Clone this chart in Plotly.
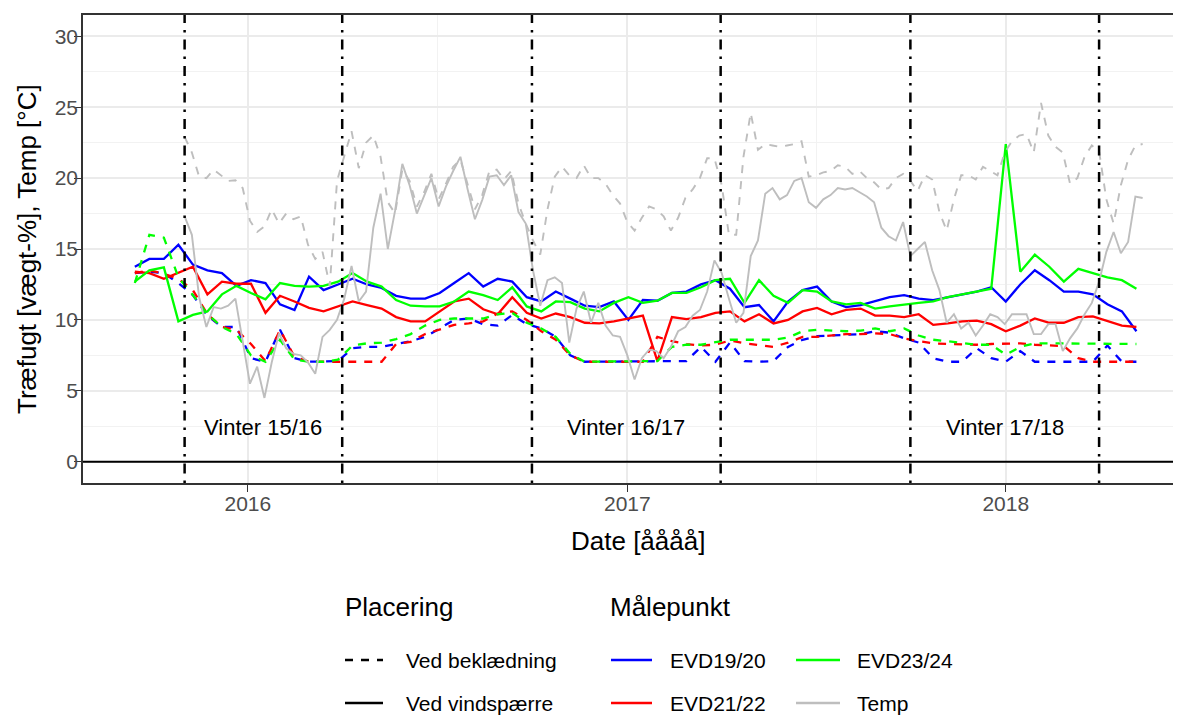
import plotly.graph_objects as go
import pandas as pd

# ---------------- data ----------------
evd_start = "2015-09-14"      # biweekly moisture readings
temp_start = "2015-11-01"     # weekly temperature readings

evd19_vindspaerre = [13.75, 14.3, 14.3, 15.3, 13.9, 13.5, 13.3, 12.4, 12.8, 12.6,
                     11.1, 10.7, 13.05, 12.1, 12.5, 12.9, 12.5, 12.25, 11.7, 11.5,
                     11.5, 11.9, 12.6, 13.3, 12.35, 12.9, 12.7, 11.6, 11.3, 12.0,
                     11.5, 11.0, 10.9, 11.3, 10.0, 11.4, 11.35, 11.9, 12.0, 12.5,
                     12.8, 12.2, 10.9, 11.05, 9.9, 11.3, 12.1, 12.35, 11.3, 10.9,
                     11.05, 11.3, 11.6, 11.75, 11.5, 11.4, 11.6, 11.8, 12.0, 12.3,
                     11.3, 12.5, 13.5, 12.8, 12.0, 12.0, 11.8, 11.1, 10.6, 9.2]
evd21_vindspaerre = [13.4, 13.3, 12.9, 13.3, 13.75, 11.8, 12.7, 12.55, 12.55, 10.5,
                     11.7, 11.3, 10.85, 10.6, 10.95, 11.3, 11.05, 10.8, 10.2, 9.9,
                     9.9, 10.6, 11.3, 11.5, 10.75, 10.4, 11.6, 10.5, 10.1, 10.45,
                     10.2, 9.8, 9.75, 9.9, 10.1, 10.3, 7.1, 10.2, 10.05, 10.2,
                     10.5, 10.6, 9.9, 10.4, 9.75, 10.0, 10.6, 10.85, 10.4, 10.7,
                     10.8, 10.3, 10.3, 10.2, 10.4, 9.65, 9.75, 9.9, 9.95, 9.7,
                     9.2, 9.6, 10.1, 9.8, 9.8, 10.2, 10.25, 9.95, 9.6, 9.5]
evd23_vindspaerre = [12.7, 13.5, 13.7, 9.9, 10.35, 10.6, 11.8, 12.4, 11.9, 11.45,
                     12.6, 12.4, 12.35, 12.4, 12.7, 13.3, 12.7, 12.35, 11.4, 11.0,
                     10.95, 10.95, 11.3, 12.0, 11.75, 11.4, 12.3, 10.95, 10.6, 11.3,
                     11.25, 10.8, 10.6, 11.2, 11.6, 11.2, 11.35, 11.9, 11.9, 12.3,
                     12.8, 12.9, 11.2, 12.8, 11.7, 11.2, 12.1, 12.0, 11.3, 11.1,
                     11.2, 10.8, 10.95, 11.1, 11.2, 11.3, 11.6, 11.8, 12.0, 12.2,
                     22.4, 13.4, 14.6, 13.75, 12.7, 13.6, 13.3, 13.0, 12.8, 12.2]
evd19_beklaedning = [13.3, 13.4, 13.3, 12.6, 11.75, 10.3, 9.5, 9.5, 7.3, 7.05,
                     9.3, 7.3, 7.05, 7.05, 7.1, 8.0, 8.1, 8.1, 8.3, 8.5,
                     8.8, 9.4, 10.0, 10.1, 9.7, 9.6, 10.35, 9.7, 9.4, 8.8,
                     7.5, 7.05, 7.05, 7.05, 7.05, 7.05, 7.1, 7.1, 7.1, 8.1,
                     7.05, 8.4, 7.1, 7.05, 7.1, 8.1, 8.6, 8.85, 8.9, 8.95,
                     9.0, 9.2, 9.1, 8.7, 8.4, 7.3, 7.05, 7.05, 8.0, 7.3,
                     7.05, 7.8, 7.05, 7.05, 7.05, 7.05, 7.05, 8.2, 7.05, 7.05]
evd21_beklaedning = [13.3, 13.5, 13.25, 12.9, 12.1, 10.4, 9.5, 9.3, 8.3, 7.1,
                     9.3, 7.4, 7.05, 7.05, 7.05, 7.05, 7.05, 7.05, 8.3, 8.45,
                     9.0, 9.3, 9.65, 9.75, 9.9, 10.45, 10.6, 10.0, 9.2, 8.6,
                     7.5, 7.05, 7.05, 7.05, 7.05, 7.05, 8.8, 8.5, 8.3, 8.2,
                     8.25, 8.55, 8.35, 8.25, 8.1, 8.4, 8.8, 8.8, 8.9, 9.0,
                     9.0, 9.05, 9.0, 8.7, 8.5, 8.35, 8.3, 8.25, 8.25, 8.3,
                     8.35, 8.35, 8.25, 8.2, 8.15, 7.3, 7.05, 7.05, 7.05, 7.05]
evd23_beklaedning = [12.6, 16.0, 15.8, 13.0, 11.75, 10.4, 9.5, 9.0, 7.5, 7.05,
                     8.6, 7.2, 7.05, 7.05, 7.2, 8.2, 8.35, 8.4, 8.65, 9.0,
                     9.6, 10.0, 10.1, 10.1, 10.1, 10.4, 10.5, 9.8, 9.4, 8.8,
                     7.6, 7.05, 7.05, 7.05, 7.05, 7.05, 7.1, 8.1, 8.25, 8.25,
                     8.4, 8.6, 8.6, 8.6, 8.6, 8.75, 9.2, 9.3, 9.25, 9.2,
                     9.25, 9.4, 9.2, 9.4, 8.9, 8.6, 8.5, 8.4, 8.25, 8.25,
                     7.55, 8.1, 8.35, 8.35, 8.35, 8.35, 8.3, 8.3, 8.3, 8.3]

temp_vindspaerre = [17.3, 16.0, 11.6, 9.5, 10.9, 10.8, 11.0, 11.5, 8.5, 5.5,
                    6.7, 4.5, 7.0, 9.05, 8.0, 7.6, 7.5, 7.0, 6.2, 8.8,
                    9.3, 10.0, 11.5, 13.8, 11.3, 12.0, 16.5, 18.9, 15.0, 17.7,
                    21.0, 19.5, 17.5, 18.8, 20.0, 18.0, 19.4, 20.5, 21.5, 19.2,
                    17.1, 18.45, 20.1, 20.2, 19.5, 20.2, 17.6, 16.8, 13.5, 11.0,
                    12.8, 13.0, 12.6, 8.4, 10.8, 12.0, 9.8, 11.2, 9.6, 8.9,
                    8.8, 7.5, 5.8, 7.3, 7.9, 7.8, 7.3, 8.1, 9.2, 9.5,
                    10.3, 10.7, 12.0, 14.2, 13.3, 11.5, 9.8, 10.5, 14.5, 15.6,
                    18.9, 19.3, 18.5, 18.8, 19.8, 20.0, 18.3, 17.9, 18.5, 18.8,
                    19.3, 19.2, 19.3, 19.0, 18.7, 18.3, 16.5, 15.9, 15.6, 16.9,
                    14.5, 15.0, 15.5, 13.5, 12.1, 9.8, 10.4, 9.4, 9.8, 8.9,
                    9.6, 10.4, 10.2, 9.7, 10.4, 10.4, 10.4, 9.0, 9.0, 9.7,
                    9.7, 7.8, 8.7, 9.4, 10.4, 11.2, 12.7, 14.8, 16.2, 14.7,
                    15.5, 18.7, 18.6]
temp_beklaedning = [22.9, 21.8, 20.1, 20.0, 20.6, 20.2, 19.8, 19.85, 19.3, 17.0,
                    16.2, 16.6, 17.8, 16.8, 17.5, 17.1, 17.3, 15.3, 14.3, 14.8,
                    12.4, 19.8, 21.5, 23.3, 20.7, 22.5, 23.0, 21.5, 18.3, 17.5,
                    20.6, 19.8, 18.0, 19.0, 20.3, 18.5, 19.6, 20.8, 21.3, 19.6,
                    17.8, 18.8, 20.5, 20.6, 19.9, 20.5, 18.2, 16.8, 15.6, 14.6,
                    17.8, 20.1, 20.8, 20.2, 20.0, 20.9, 20.0, 20.0, 19.6, 18.8,
                    18.2, 16.9, 16.3, 17.2, 18.0, 17.8, 17.3, 16.3, 17.2, 18.6,
                    19.2, 20.0, 21.4, 21.4, 19.5, 16.0, 16.0, 21.5, 24.6, 22.0,
                    22.4, 22.3, 22.2, 22.3, 22.4, 22.6, 20.1, 20.2, 20.4, 20.5,
                    20.9, 20.8, 20.3, 20.5, 20.0, 19.7, 19.2, 19.3, 20.0, 20.3,
                    19.8, 19.1, 20.2, 19.9, 17.6, 16.3, 18.5, 20.2, 20.2, 19.9,
                    20.8, 20.5, 20.2, 21.8, 22.6, 23.0, 23.1, 21.8, 25.3, 23.0,
                    22.2, 21.8, 19.6, 20.0, 21.5, 22.3, 21.9, 18.5, 16.8, 19.5,
                    21.3, 22.3, 22.4]

winter_bounds = ["2015-11-01", "2016-04-01", "2016-10-01",
                 "2017-04-01", "2017-10-01", "2018-04-01"]
winter_labels = ["Vinter 15/16", "Vinter 16/17", "Vinter 17/18"]
year_ticks = ["2016-01-01", "2017-01-01", "2018-01-01"]
year_labels = ["2016", "2017", "2018"]
y_ticks = [0, 5, 10, 15, 20, 25, 30]

# ---------------- styling ----------------
OFF = 8                       # default page margin of the html body
W, H = 1181 - OFF, 715 - OFF
ML, MR, MT, MB = 83 - OFF, 0, 15 - OFF, 232
FONT = "Liberation Sans, Arial, sans-serif"
COL = {"EVD19/20": "#0000FF", "EVD21/22": "#FF0000",
       "EVD23/24": "#00FF00", "Temp": "#BEBEBE"}
DASH = "8px,8px"

evd_dates = pd.date_range(evd_start, periods=len(evd19_vindspaerre), freq="14D")
temp_dates = pd.date_range(temp_start, periods=len(temp_vindspaerre), freq="7D")

fig = go.Figure()

series = [
    ("EVD19/20", evd19_beklaedning, evd19_vindspaerre),
    ("EVD21/22", evd21_beklaedning, evd21_vindspaerre),
    ("EVD23/24", evd23_beklaedning, evd23_vindspaerre),
]
for name, bek, vind in series:
    fig.add_trace(go.Scatter(x=evd_dates, y=bek, mode="lines",
                             line=dict(color=COL[name], width=2.3, dash=DASH),
                             showlegend=False))
    fig.add_trace(go.Scatter(x=evd_dates, y=vind, mode="lines",
                             line=dict(color=COL[name], width=2.3),
                             showlegend=False))
fig.add_trace(go.Scatter(x=temp_dates, y=temp_beklaedning, mode="lines",
                         line=dict(color=COL["Temp"], width=1.9, dash=DASH),
                         showlegend=False))
fig.add_trace(go.Scatter(x=temp_dates, y=temp_vindspaerre, mode="lines",
                         line=dict(color=COL["Temp"], width=1.9),
                         showlegend=False))

pw = W - ML - MR
ph = H - MT - MB
REF_BOTTOM = 483              # panel bottom in reference pixels


def px(xp):
    return (xp - 83) / pw


def py(yp):
    return (REF_BOTTOM - yp) / ph


shapes = []
shapes.append(dict(type="line", xref="paper", yref="y", x0=0, x1=1, y0=0, y1=0,
                   line=dict(color="black", width=2), layer="above"))
for d in winter_bounds:
    shapes.append(dict(type="line", xref="x", yref="paper", x0=d, x1=d, y0=0, y1=1,
                       line=dict(color="black", width=2.5,
                                 dash="2.5px,7px,10px,7px"),
                       layer="above"))

annotations = []
wb = pd.to_datetime(winter_bounds)
for k, lab in enumerate(winter_labels):
    mid = wb[2 * k] + (wb[2 * k + 1] - wb[2 * k]) / 2
    annotations.append(dict(x=mid, y=2.4, xref="x", yref="y", text=lab,
                            xanchor="center", yanchor="middle",
                            showarrow=False, font=dict(family=FONT, size=22, color="black")))

# axis titles
annotations.append(dict(x=px(638), y=py(541), xref="paper", yref="paper",
                        xanchor="center", yanchor="middle",
                        text="Date [åååå]", showarrow=False,
                        font=dict(family=FONT, size=26, color="black")))
annotations.append(dict(x=px(27), y=py(249), xref="paper", yref="paper",
                        xanchor="center", yanchor="middle",
                        text="Træfugt [vægt-%], Temp [°C]", showarrow=False, textangle=-90,
                        font=dict(family=FONT, size=26, color="black")))

# manual legend
annotations.append(dict(x=px(343), y=py(607), xref="paper", yref="paper",
                        xanchor="left", yanchor="middle",
                        text="Placering", showarrow=False,
                        font=dict(family=FONT, size=26, color="black")))
annotations.append(dict(x=px(608), y=py(607), xref="paper", yref="paper",
                        xanchor="left", yanchor="middle",
                        text="Målepunkt", showarrow=False,
                        font=dict(family=FONT, size=26, color="black")))
legend_items = [
    (345, 383, 660, "black", DASH, 404, "Ved beklædning"),
    (345, 383, 703, "black", "solid", 404, "Ved vindspærre"),
    (611, 652, 660, COL["EVD19/20"], "solid", 668, "EVD19/20"),
    (611, 652, 703, COL["EVD21/22"], "solid", 668, "EVD21/22"),
    (796, 840, 660, COL["EVD23/24"], "solid", 855, "EVD23/24"),
    (796, 840, 703, COL["Temp"], "solid", 855, "Temp"),
]
for x0, x1, yy, col, dsh, tx, lab in legend_items:
    shapes.append(dict(type="line", xref="paper", yref="paper", x0=px(x0), x1=px(x1),
                       y0=py(yy), y1=py(yy), line=dict(color=col, width=2.3, dash=dsh)))
    annotations.append(dict(x=px(tx), y=py(yy), xref="paper", yref="paper",
                            xanchor="left", yanchor="middle",
                            text=lab, showarrow=False,
                            font=dict(family=FONT, size=21, color="black")))

fig.update_layout(
    width=W, height=H,
    margin=dict(l=ML, r=MR, t=MT, b=MB, pad=0),
    paper_bgcolor="white", plot_bgcolor="white",
    font=dict(family=FONT),
    showlegend=False,
    shapes=shapes, annotations=annotations,
    xaxis=dict(type="date", range=["2015-07-26", "2018-06-19"],
               tickvals=year_ticks, ticktext=year_labels,
               ticks="outside", ticklen=7, tickcolor="#333333", tickwidth=1.3,
               ticklabelstandoff=-6,
               tickfont=dict(family=FONT, size=21, color="#4D4D4D"),
               showgrid=True, gridcolor="#EBEBEB", gridwidth=1.5,
               minor=dict(tickvals=["2016-07-02", "2017-07-02"], showgrid=True,
                          gridcolor="#F2F2F2", gridwidth=0.8, ticks=""),
               showline=True, mirror=True, linecolor="#333333", linewidth=1.5,
               zeroline=False),
    yaxis=dict(range=[-1.5, 31.5], tickvals=y_ticks,
               ticks="outside", ticklen=7, tickcolor="#333333", tickwidth=1.3,
               ticklabelstandoff=-8,
               tickfont=dict(family=FONT, size=21, color="#4D4D4D"),
               showgrid=True, gridcolor="#EBEBEB", gridwidth=1.5,
               minor=dict(dtick=5, tick0=2.5, showgrid=True,
                          gridcolor="#F2F2F2", gridwidth=0.8, ticks=""),
               showline=True, mirror=False, linecolor="#333333", linewidth=1.5,
               zeroline=False),
)

fig.write_html("out.html")
